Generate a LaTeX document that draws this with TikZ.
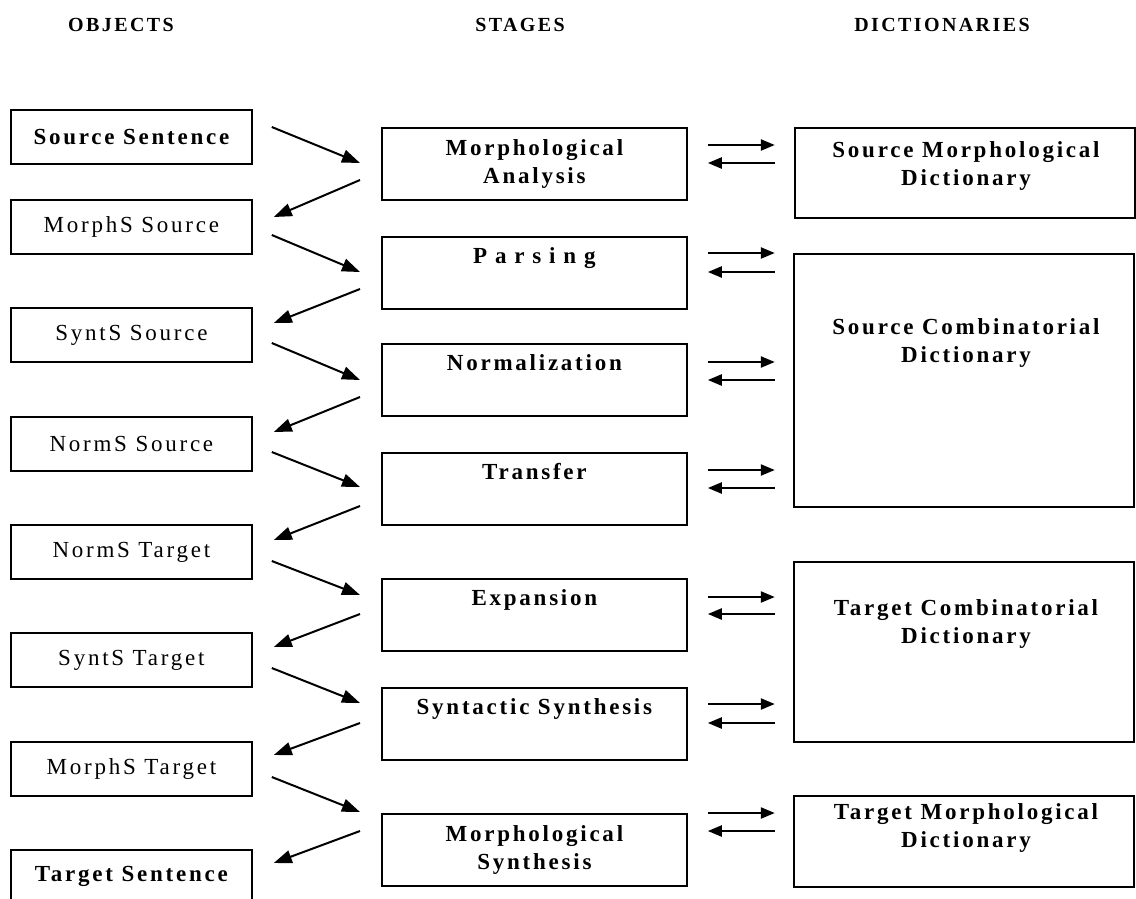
\documentclass[tikz,border=0pt]{standalone}
\usepackage{fontspec}
\setmainfont{Liberation Serif}
\newfontfamily\spaced[LetterSpace=12]{Liberation Serif}
\newfontfamily\wspaced[LetterSpace=34]{Liberation Serif}
\usetikzlibrary{arrows.meta}
\begin{document}
\begin{tikzpicture}[x=1pt,y=-1pt,
  box/.style={draw, line width=1.8pt, inner sep=0pt, anchor=north west, align=center},
  obj/.style={box, minimum width=241pt, minimum height=54pt, font=\spaced\fontsize{23}{27.5}\selectfont},
  stg/.style={box, minimum width=305pt, minimum height=72pt, font=\spaced\bfseries\fontsize{23}{27.5}\selectfont},
  dict/.style={box, minimum width=340pt},
  dtext/.style={align=center, inner sep=0pt, font=\spaced\bfseries\fontsize{23}{28}\selectfont},
  hdr/.style={inner sep=0pt, font=\spaced\bfseries\fontsize{20}{22}\selectfont},
  arr/.style={line width=2pt, -{Triangle[length=18pt,width=13pt]}},
  harr/.style={line width=2.3pt, -{Triangle[length=14pt,width=11pt]}}]
\clip (0,0) rectangle (1136,898);
% headers
\node[hdr] (h1) at (121,25) {OBJECTS};
\node[hdr] (h2) at (520,25) {STAGES};
\node[hdr] (h3) at (942,25) {DICTIONARIES};
% objects
\node[obj] (o1) at (10,109) {\bfseries Source Sentence};
\node[obj] (o2) at (10,199) {MorphS Source};
\node[obj] (o3) at (10,307) {SyntS Source};
\node[obj] (o4) at (10,416) {NormS Source};
\node[obj] (o5) at (10,524) {NormS Target};
\node[obj] (o6) at (10,632) {SyntS Target};
\node[obj] (o7) at (10,741) {MorphS Target};
\node[obj] (o8) at (10,849) {\bfseries Target Sentence};
% stages
\node[stg] (s1) at (381,127) {Morphological\\Analysis};
\node[stg] (s2) at (381,236) {{\wspaced Parsing}\\\strut};
\node[stg] (s3) at (381,343) {Normalization\\\strut};
\node[stg] (s4) at (381,452) {Transfer\\\strut};
\node[stg] (s5) at (381,578) {Expansion\\\strut};
\node[stg] (s6) at (381,687) {Syntactic Synthesis\\\strut};
\node[stg] (s7) at (381,813) {Morphological\\Synthesis};
% dictionaries
\node[dict, minimum height=90pt] (d1) at (794,127) {};
\node[dict, minimum height=253pt] (d2) at (793,253) {};
\node[dict, minimum height=180pt] (d3) at (793,561) {};
\node[dict, minimum height=91pt] (d4) at (793,795) {};
\node[dtext] (t1) at (966,166) {Source Morphological\\Dictionary};
\node[dtext] (t2) at (966,343) {Source Combinatorial\\Dictionary};
\node[dtext] (t3) at (966,623.5) {Target Combinatorial\\Dictionary};
\node[dtext] (t4) at (966,827.5) {Target Morphological\\Dictionary};
% object -> stage
\draw[arr] ([shift={(19,18)}]o1.north east) -- ([shift={(-21,36)}]s1.north west);
\draw[arr] ([shift={(19,36)}]o2.north east) -- ([shift={(-21,36)}]s2.north west);
\draw[arr] ([shift={(19,36)}]o3.north east) -- ([shift={(-21,37)}]s3.north west);
\draw[arr] ([shift={(19,36)}]o4.north east) -- ([shift={(-21,35)}]s4.north west);
\draw[arr] ([shift={(19,37)}]o5.north east) -- ([shift={(-21,17)}]s5.north west);
\draw[arr] ([shift={(19,36)}]o6.north east) -- ([shift={(-21,16)}]s6.north west);
\draw[arr] ([shift={(19,36)}]o7.north east) -- ([shift={(-21,-1)}]s7.north west);
% stage -> object
\draw[arr] ([shift={(-21,53)}]s1.north west) -- ([shift={(21,18)}]o2.north east);
\draw[arr] ([shift={(-21,53)}]s2.north west) -- ([shift={(21,16)}]o3.north east);
\draw[arr] ([shift={(-21,54)}]s3.north west) -- ([shift={(21,16)}]o4.north east);
\draw[arr] ([shift={(-21,54)}]s4.north west) -- ([shift={(21,16)}]o5.north east);
\draw[arr] ([shift={(-21,36)}]s5.north west) -- ([shift={(21,15)}]o6.north east);
\draw[arr] ([shift={(-21,36)}]s6.north west) -- ([shift={(21,14)}]o7.north east);
\draw[arr] ([shift={(-21,18)}]s7.north west) -- ([shift={(21,14)}]o8.north east);
% stage <-> dictionary
\foreach \s/\a/\b in {s1/18/36, s2/17/36, s3/19/37, s4/18/36, s5/19/36, s6/17/36, s7/0/18}{
  \draw[harr] ([shift={(20,\a)}]\s.north east) -- ([shift={(87,\a)}]\s.north east);
  \draw[harr] ([shift={(87,\b)}]\s.north east) -- ([shift={(20,\b)}]\s.north east);
}
\end{tikzpicture}
\end{document}
